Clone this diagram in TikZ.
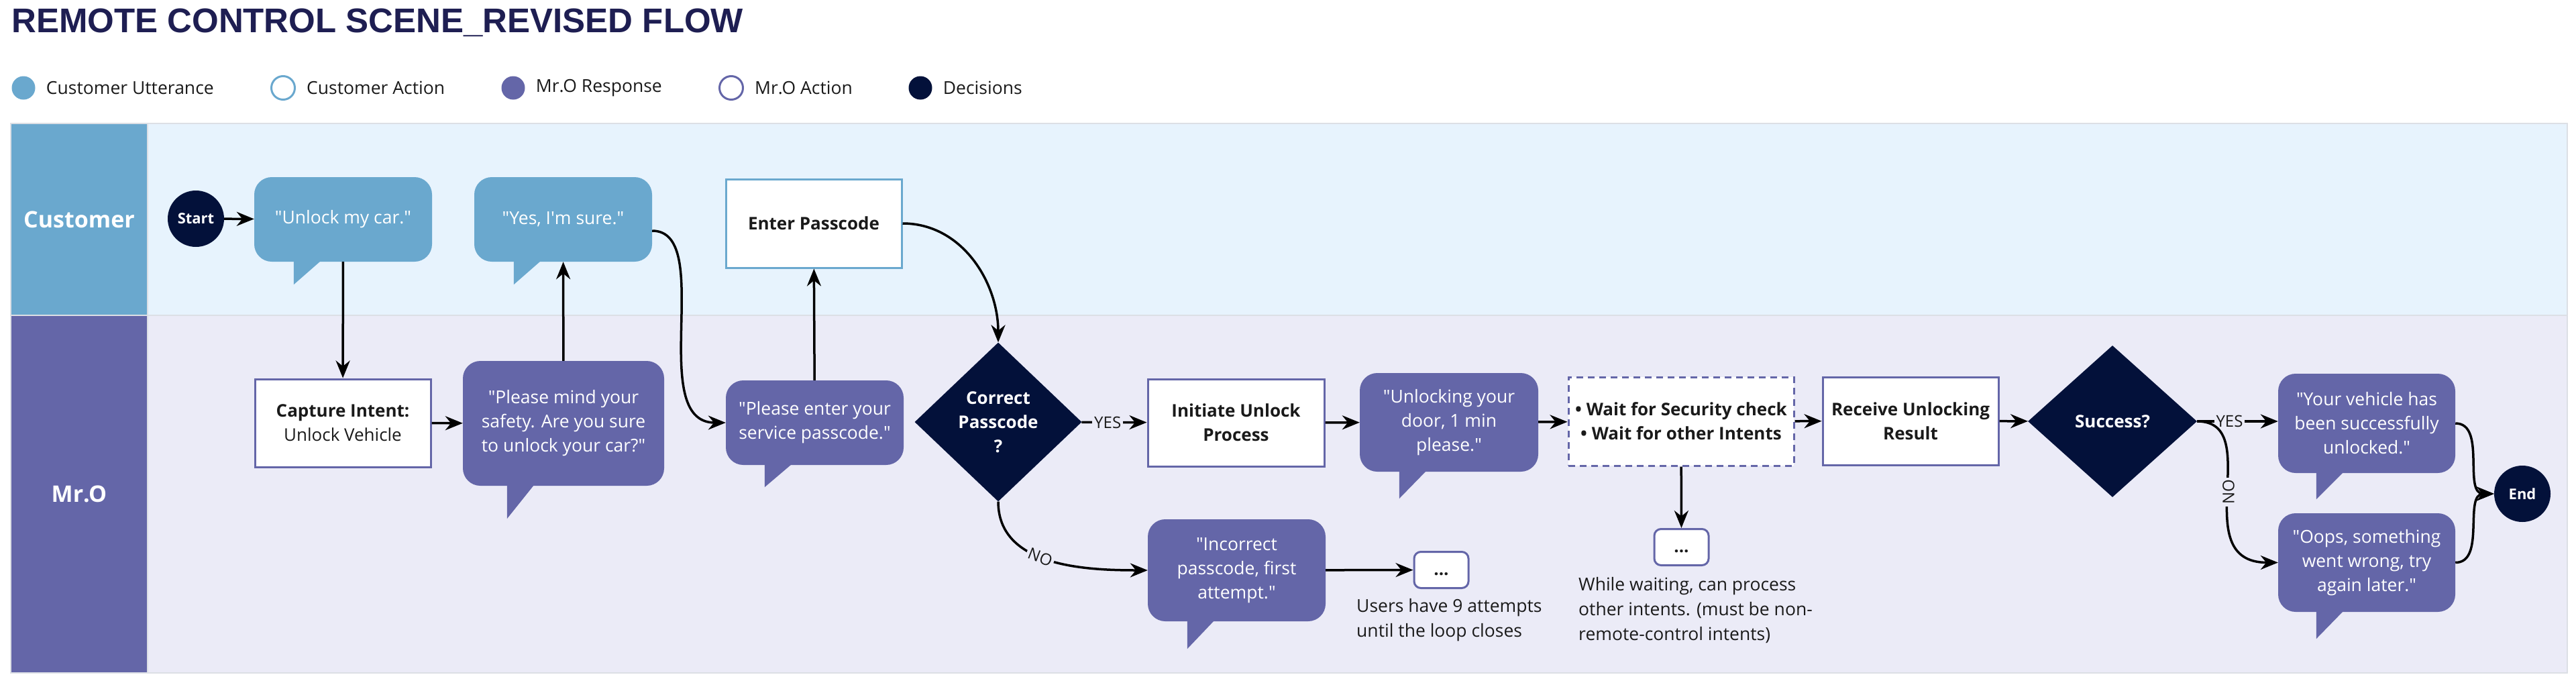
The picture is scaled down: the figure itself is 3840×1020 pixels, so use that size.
\documentclass[tikz,border=0pt]{standalone}
\usepackage{fontspec}
\setmainfont{Open Sans}
\newfontfamily\titlefont{Liberation Sans}
\usetikzlibrary{arrows.meta,positioning,calc,shapes.geometric}
\definecolor{utterblue}{RGB}{106,168,206}
\definecolor{replypurple}{RGB}{100,102,168}
\definecolor{decisionnavy}{RGB}{3,17,58}
\definecolor{custlane}{RGB}{231,243,253}
\definecolor{mrolane}{RGB}{235,235,247}
\definecolor{lanegray}{RGB}{220,223,229}
\definecolor{titlenavy}{RGB}{30,30,82}
\definecolor{inktext}{RGB}{26,26,26}
\newcommand{\say}[1]{\textquotedbl#1\textquotedbl}
\newcommand{\bubtail}[4]{%
  \fill[#2] ($(#1.south west)+(#3,1)$) -- ($(#1.south west)+(#3,-#4)$) -- ($(#1.south west)+(#3+40,1)$) -- cycle;}

\begin{document}
\begin{tikzpicture}[x=1pt, y=1pt,
    every node/.style={font=\fontsize{26.5}{36}\selectfont, text=inktext},
    arr/.style={-{Stealth[length=26pt,width=21pt]}, line width=3.5pt, black},
    utter/.style={fill=utterblue, rounded corners=26pt, text=white, align=center},
    reply/.style={fill=replypurple, rounded corners=26pt, text=white, align=center},
    custact/.style={draw=utterblue, fill=white, line width=3pt, align=center, font=\fontsize{26}{36}\selectfont\bfseries},
    mroact/.style={draw=replypurple, fill=white, line width=3pt, align=center, font=\fontsize{26}{36}\selectfont\bfseries},
    decision/.style={diamond, fill=decisionnavy, text=white, align=center, inner sep=0pt, font=\fontsize{26}{36}\selectfont\bfseries},
    terminal/.style={circle, fill=decisionnavy, text=white, minimum size=84pt, inner sep=0pt, font=\fontsize{22}{26}\selectfont\bfseries},
    branch/.style={fill=mrolane, inner sep=3pt, font=\fontsize{24}{26}\selectfont},
    dots/.style={draw=replypurple, fill=white, line width=3pt, rounded corners=10pt, minimum width=81pt, minimum height=54pt, text height=16pt, text depth=0pt, font=\fontsize{26}{30}\selectfont\bfseries},
    note/.style={anchor=north west, align=left, inner sep=0pt, font=\fontsize{26.5}{37}\selectfont},
    lanelabel/.style={text=white, font=\fontsize{34}{40}\selectfont\bfseries},
    legdot/.style={circle, minimum size=35pt, inner sep=0pt},
    legtext/.style={inner sep=0pt}
  ]
  \fill[white] (0,0) rectangle (3840,-1020);
  \useasboundingbox (0,0) rectangle (3840,-1020);

  \node[anchor=base west, inner sep=0pt, text=titlenavy, font=\titlefont\fontsize{51}{56}\selectfont\bfseries] (title) at (17,-48) {REMOTE CONTROL SCENE\_REVISED FLOW};

  \node[legdot, fill=utterblue] (legutter) at (35,-131) {};
  \node[legtext, right=16pt of legutter] {Customer Utterance};
  \node[legdot, draw=utterblue, line width=3pt, fill=white] (legcustact) at (422,-131) {};
  \node[legtext, right=16pt of legcustact] {Customer Action};
  \node[legdot, fill=replypurple] (legreply) at (765,-131) {};
  \node[legtext, right=16pt of legreply] {Mr.O Response};
  \node[legdot, draw=replypurple, line width=3pt, fill=white] (legmroact) at (1090,-131) {};
  \node[legtext, right=16pt of legmroact] {Mr.O Action};
  \node[legdot, fill=decisionnavy] (legdecision) at (1372,-131) {};
  \node[legtext, right=16pt of legdecision] {Decisions};

  \fill[lanegray] (15,-183) rectangle (3828,-1004);
  \fill[custlane] (221,-185) rectangle (3826,-469);
  \fill[mrolane] (221,-471) rectangle (3826,-1002);
  \node[lanelabel, fill=utterblue, minimum width=202pt, minimum height=284pt] (custlabel) at (118,-327) {Customer};
  \node[lanelabel, fill=replypurple, minimum width=202pt, minimum height=531pt] (mrolabel) at (118,-736.5) {Mr.O};

  \node[terminal] (start) at (292,-326) {Start};
  \node[utter, minimum width=265pt, minimum height=126pt] (unlock) at (511.5,-327) {\say{Unlock my car.}};
  \node[utter, minimum width=265pt, minimum height=126pt] (sure) at (839.5,-327) {\say{Yes, I\textquotesingle m sure.}};
  \node[custact, minimum width=262pt, minimum height=132pt] (passcode) at (1213,-333) {Enter Passcode};

  \node[mroact, minimum width=262pt, minimum height=131pt] (capture) at (511,-630.5) {Capture Intent:\\\textmd{Unlock Vehicle}};
  \node[reply, minimum width=300pt, minimum height=186pt] (mind) at (840,-631) {\textquotedbl Please mind your\\safety. Are you sure\\to unlock your car?\textquotedbl};
  \node[reply, minimum width=265pt, minimum height=126pt] (enter) at (1214.5,-630) {\textquotedbl Please enter your\\service passcode.\textquotedbl};
  \node[decision, minimum width=249pt, minimum height=237pt] (correct) at (1488,-629) {Correct\\Passcode\\?};
  \node[mroact, minimum width=263pt, minimum height=130pt] (initiate) at (1842.5,-630) {Initiate Unlock\\Process};
  \node[reply, minimum width=265pt, minimum height=152pt] (incorrect) at (1843.5,-850) {\textquotedbl Incorrect\\passcode, first\\attempt.\textquotedbl};
  \node[dots] (retry) at (2148.5,-849.5) {...};
  \node[note] (retrynote) at (2022,-892) {Users have 9 attempts\\until the loop closes};
  \node[reply, minimum width=266pt, minimum height=147pt] (unlocking) at (2160,-629.5) {\textquotedbl Unlocking your\\door, 1 min\\please.\textquotedbl};
  \node[mroact, dash pattern=on 10pt off 7pt, minimum width=336pt, minimum height=132pt] (waiting) at (2506,-628) {\textbullet\ Wait for Security check\\\textbullet\ Wait for other Intents};
  \node[dots] (waitdots) at (2506.5,-815.5) {...};
  \node[note] (waitnote) at (2353,-860) {While waiting, can process\\other intents. (must be non-\\remote-control intents)};
  \node[mroact, minimum width=262pt, minimum height=131pt] (receive) at (2848,-627.5) {Receive Unlocking\\Result};
  \node[decision, minimum width=252pt, minimum height=226pt] (success) at (3149,-628) {Success?};
  \node[reply, minimum width=264pt, minimum height=148pt] (vehicle) at (3528,-631) {\textquotedbl Your vehicle has\\been successfully\\unlocked.\textquotedbl};
  \node[reply, minimum width=264pt, minimum height=147pt] (oops) at (3528,-838.5) {\textquotedbl Oops, something\\went wrong, try\\again later.\textquotedbl};
  \node[terminal] (stop) at (3760,-736) {End};

  \bubtail{unlock}{utterblue}{59}{34}
  \bubtail{sure}{utterblue}{59}{34}
  \bubtail{mind}{replypurple}{66}{49}
  \bubtail{enter}{replypurple}{58}{33}
  \bubtail{incorrect}{replypurple}{59}{41}
  \bubtail{unlocking}{replypurple}{59}{40}
  \bubtail{vehicle}{replypurple}{57}{39}
  \bubtail{oops}{replypurple}{57}{40}

  \draw[arr] (start) -- (unlock);
  \draw[arr] (unlock) -- (capture);
  \draw[arr] (capture) -- (mind);
  \draw[arr] (mind) -- (sure);
  \draw[arr] ($(sure.east)+(0,-17)$) .. controls +(95,0) and +(-120,0) .. (enter.west);
  \draw[arr] (enter) -- (passcode);
  \draw[arr] (passcode.east) to[out=0,in=90] (correct.north);
  \draw[arr] (correct) -- node[branch, pos=0.4] {YES} (initiate);
  \draw[arr] (correct.south) to[out=-90,in=180] node[branch, pos=0.45, sloped] {NO} (incorrect.west);
  \draw[arr] (incorrect) -- (retry);
  \draw[arr] (initiate) -- (unlocking);
  \draw[arr] (unlocking) -- (waiting);
  \draw[arr] (waiting) -- (waitdots);
  \draw[arr] (waiting) -- (receive);
  \draw[arr] (receive) -- (success);
  \draw[arr] (success.east) -- node[branch, pos=0.4] {YES} (vehicle.west |- success.east);
  \draw[arr] (success.east) .. controls +(103,0) and +(-139,0) .. node[branch, rotate=90] {NO} (oops.west);
  \draw[arr] (vehicle.east) to[out=0,in=180] (stop.west);
  \draw[arr] (oops.east) to[out=0,in=180] (stop.west);
\end{tikzpicture}
\end{document}
